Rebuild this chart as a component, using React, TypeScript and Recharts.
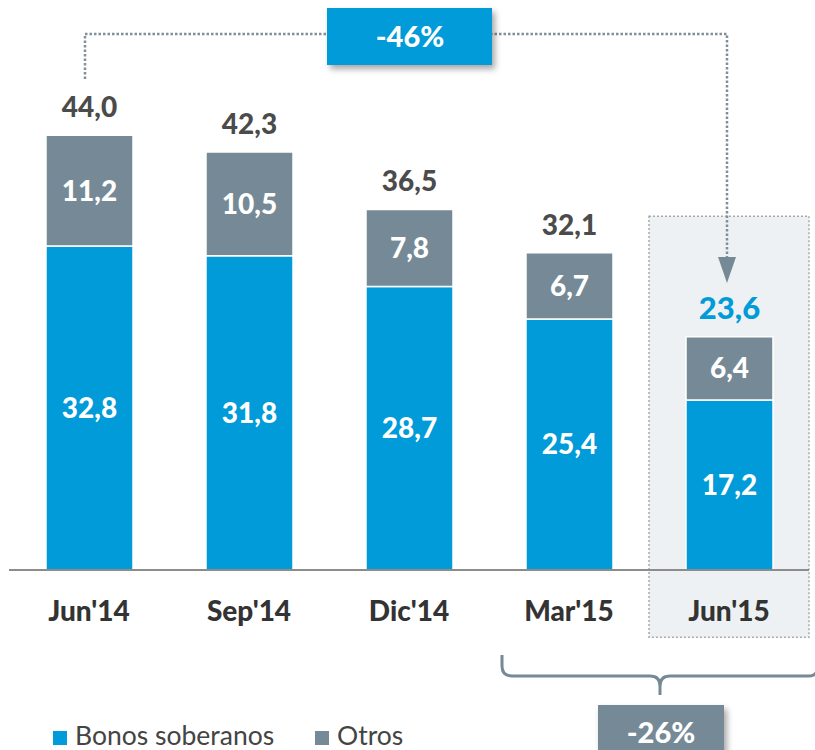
import React from "react";
import { BarChart, Bar, XAxis, YAxis, LabelList, ReferenceArea } from "recharts";

const categories = ["Jun'14", "Sep'14", "Dic'14", "Mar'15", "Jun'15"];
const bonos = [32.8, 31.8, 28.7, 25.4, 17.2];
const otros = [11.2, 10.5, 7.8, 6.7, 6.4];
const totals = [44.0, 42.3, 36.5, 32.1, 23.6];
const seriesNames = ["Bonos soberanos", "Otros"];
const changeTotal = "-46%";
const changeQuarter = "-26%";

const BLUE = "#009BD8";
const GRAY = "#758A96";
const TEXT_DARK = "#4B4B4B";
const FONT = "Lato, 'Open Sans', sans-serif";
const BOLD = 900;

const W = 815;
const H = 750;
const MARGIN = { top: 76, right: 6, left: 9, bottom: 130 };
const XAXIS_H = 50;
const Y_MAX = 50;

const data = categories.map((c, i) => ({
  cat: c,
  bonos: bonos[i],
  otros: otros[i],
  total: totals[i],
}));

const fmt = (v: number) => v.toFixed(1).replace(".", ",");

// geometry helpers for the annotation overlay (same layout as the chart)
const plotLeft = MARGIN.left;
const plotRight = W - MARGIN.right;
const plotBottom = H - MARGIN.bottom - XAXIS_H;
const plotTop = MARGIN.top;
const band = (plotRight - plotLeft) / categories.length;
const xC = (i: number) => plotLeft + band * i + band / 2;

const TotalLabel = (props: any) => {
  const { x, y, width, index } = props;
  const last = index === categories.length - 1;
  return (
    <text
      x={x + width / 2}
      y={y - 18}
      textAnchor="middle"
      fontFamily={FONT}
      fontWeight={BOLD}
      fontSize={last ? 31 : 28}
      fill={last ? BLUE : TEXT_DARK}
    >
      {fmt(totals[index])}
    </text>
  );
};

const Tick = (props: any) => {
  const { x, y, payload } = props;
  return (
    <text
      x={x}
      y={y + 43}
      textAnchor="middle"
      fontFamily={FONT}
      fontWeight={BOLD}
      fontSize={28}
      fill="#333333"
    >
      {payload.value}
    </text>
  );
};

const Overlay = () => {
  const x0 = xC(0) - 4;
  const x4 = xC(4) - 2;
  const yTop = 34;
  const yLeftEnd = 79;
  const arrowTop = 257;
  const arrowTip = 283;
  const braceY = 676;
  const braceL = 502;
  const braceR = 818;
  const braceMid = 660;
  return (
    <svg
      width={W}
      height={H}
      style={{ position: "absolute", left: 0, top: 0, pointerEvents: "none" }}
    >
      <defs>
        <filter id="sh" x="-20%" y="-20%" width="150%" height="170%">
          <feDropShadow dx="3" dy="4" stdDeviation="3" floodColor="#000" floodOpacity="0.35" />
        </filter>
      </defs>
      <polyline
        points={`${x0},${yLeftEnd} ${x0},${yTop} ${x4},${yTop} ${x4},${arrowTop}`}
        fill="none"
        stroke="#7F909B"
        strokeWidth={2.5}
        strokeDasharray="2.5 2"
      />
      <polygon
        points={`${x4 - 9},${arrowTop} ${x4 + 9},${arrowTop} ${x4},${arrowTip}`}
        fill="#758A96"
      />
      <rect x={327} y={8} width={165} height={57} fill={BLUE} filter="url(#sh)" />
      <text
        x={410}
        y={47}
        textAnchor="middle"
        fontFamily={FONT}
        fontWeight={BOLD}
        fontSize={29}
        fill="#fff"
      >
        {changeTotal}
      </text>
      <path
        d={`M ${braceL} 655 L ${braceL} ${braceY - 10} Q ${braceL} ${braceY} ${braceL + 10} ${braceY}
            L ${braceMid - 10} ${braceY} Q ${braceMid} ${braceY} ${braceMid} ${braceY + 10} L ${braceMid} 695
            M ${braceMid} ${braceY + 10} Q ${braceMid} ${braceY} ${braceMid + 10} ${braceY}
            L ${braceR - 10} ${braceY} Q ${braceR} ${braceY} ${braceR} ${braceY - 10}`}
        fill="none"
        stroke={GRAY}
        strokeWidth={3}
      />
      <rect x={598} y={705} width={126} height={60} fill={GRAY} filter="url(#sh)" />
      <text
        x={661}
        y={743}
        textAnchor="middle"
        fontFamily={FONT}
        fontWeight={BOLD}
        fontSize={29}
        fill="#fff"
      >
        {changeQuarter}
      </text>
      <rect x={53} y={731} width={14} height={14} fill={BLUE} />
      <text x={75} y={745} fontFamily={FONT} fontSize={26.5} fill="#444">
        {seriesNames[0]}
      </text>
      <rect x={315} y={731} width={14} height={14} fill={GRAY} />
      <text x={337} y={745} fontFamily={FONT} fontSize={26.5} fill="#444">
        {seriesNames[1]}
      </text>
    </svg>
  );
};

export default function App() {
  return (
    <div style={{ position: "absolute", left: 0, top: 0, width: W, height: H, background: "#fff" }}>
      <BarChart width={W} height={H} data={data} margin={MARGIN} barSize={87}>
        <YAxis hide domain={[0, Y_MAX]} type="number" />
        <ReferenceArea
          x1="Jun'15"
          x2="Jun'15"
          y1={-6.8}
          y2={35.8}
          ifOverflow="visible"
          fill="#EEF1F3"
          fillOpacity={1}
          stroke="#A9A9A9"
          strokeWidth={1.5}
          strokeDasharray="2 2"
        />
        <XAxis
          dataKey="cat"
          height={XAXIS_H}
          axisLine={{ stroke: "#8C8C8C", strokeWidth: 2 }}
          tickLine={false}
          tick={<Tick />}
          interval={0}
        />
        <Bar dataKey="bonos" stackId="a" fill={BLUE} stroke="#fff" strokeWidth={1.5} isAnimationActive={false}>
          <LabelList
            dataKey="bonos"
            position="center"
            formatter={(v: any) => fmt(Number(v))}
            fill="#fff"
            fontFamily={FONT}
            fontWeight={BOLD}
            fontSize={28}
          />
        </Bar>
        <Bar dataKey="otros" stackId="a" fill={GRAY} stroke="#fff" strokeWidth={1.5} isAnimationActive={false}>
          <LabelList
            dataKey="otros"
            position="center"
            formatter={(v: any) => fmt(Number(v))}
            fill="#fff"
            fontFamily={FONT}
            fontWeight={BOLD}
            fontSize={28}
          />
          <LabelList dataKey="total" content={<TotalLabel />} />
        </Bar>
      </BarChart>
      <Overlay />
    </div>
  );
}
